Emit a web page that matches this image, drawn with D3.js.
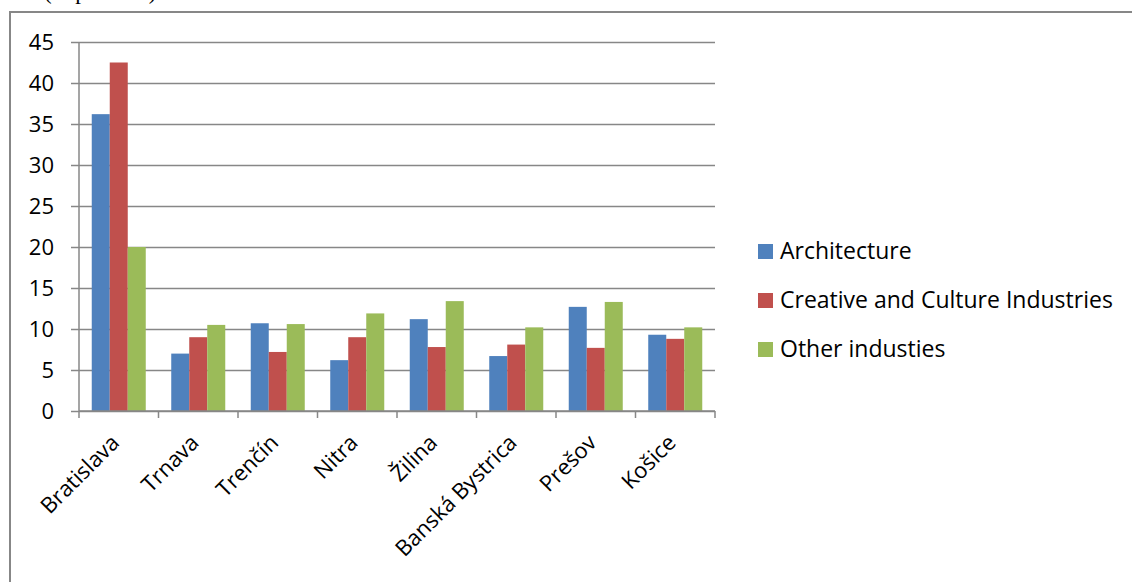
<!DOCTYPE html>
<html>
<head>
<meta charset="utf-8">
<script src="https://cdn.jsdelivr.net/npm/d3@7"></script>
<style>
  html, body { margin: 0; padding: 0; background: #fff; overflow: hidden; }
  svg { display: block; }
</style>
</head>
<body>
<div id="chart"></div>
<script>
(function() {
    'use strict';

    // Data
    var regions = ['Bratislava', 'Trnava', 'Trenčín', 'Nitra', 'Žilina', 'Banská Bystrica', 'Prešov', 'Košice'];
    var seriesNames = ['Architecture', 'Creative and Culture Industries', 'Other industies'];
    var architecture = [36.2, 7.0, 10.7, 6.2, 11.2, 6.7, 12.7, 9.3];
    var creative = [42.5, 9.0, 7.2, 9.0, 7.8, 8.1, 7.7, 8.8];
    var other = [20.0, 10.5, 10.6, 11.9, 13.4, 10.2, 13.3, 10.2];
    var yTicks = [0, 5, 10, 15, 20, 25, 30, 35, 40, 45];
    var colors = ['#4F81BD', '#C0504D', '#9BBB59'];

    var seriesValues = [architecture, creative, other];

    var width = 1132, height = 582;
    var font = '"Open Sans", sans-serif';
    var gridColor = '#878787';

    var svg = d3.select('#chart').append('svg')
        .attr('width', width)
        .attr('height', height);

    // caption above the chart frame, cut off by the top edge as in the source
    svg.append('text')
        .attr('x', 44)
        .attr('y', -1)
        .style('font', '23px "Liberation Serif", serif')
        .attr('fill', '#000')
        .text('(in per cent)');

    // chart frame (only top and left edges visible)
    svg.append('rect')
        .attr('x', 10)
        .attr('y', 12)
        .attr('width', width + 20)
        .attr('height', height + 20)
        .attr('fill', 'none')
        .attr('stroke', gridColor)
        .attr('stroke-width', 2);

    var plot = { left: 79, right: 715, top: 42, bottom: 411 };

    var x0 = d3.scaleBand()
        .domain(regions)
        .range([plot.left, plot.right])
        .paddingInner(0)
        .paddingOuter(0);

    var x1 = d3.scaleBand()
        .domain(seriesNames)
        .range([0, x0.bandwidth()])
        .paddingInner(0)
        .paddingOuter(0.708);

    var y = d3.scaleLinear()
        .domain([0, 45])
        .range([plot.bottom, plot.top]);

    // gridlines + y ticks
    var yAxis = d3.axisLeft(y)
        .tickValues(yTicks)
        .tickSize(-(plot.right - plot.left))
        .tickFormat(d3.format('d'));

    var gy = svg.append('g')
        .attr('transform', 'translate(' + plot.left + ',0)')
        .call(yAxis);
    gy.select('.domain').remove();
    gy.selectAll('.tick line')
        .attr('x1', -8)
        .attr('stroke', gridColor)
        .attr('stroke-width', 1.3);
    gy.selectAll('.tick text')
        .attr('x', -25)
        .style('font', '22px ' + font)
        .attr('fill', '#000');

    // bars
    var groups = svg.append('g').selectAll('g')
        .data(regions)
        .join('g')
        .attr('transform', function(d) { return 'translate(' + x0(d) + ',0)'; });

    groups.selectAll('rect')
        .data(function(d, i) {
            return seriesNames.map(function(s, j) {
                return { series: s, value: seriesValues[j][i], color: colors[j] };
            });
        })
        .join('rect')
        .attr('x', function(d) { return x1(d.series); })
        .attr('width', x1.bandwidth())
        .attr('y', function(d) { return y(d.value); })
        .attr('height', function(d) { return y(0) - y(d.value); })
        .attr('fill', function(d) { return d.color; });

    // y axis line
    svg.append('line')
        .attr('x1', plot.left).attr('x2', plot.left)
        .attr('y1', plot.top).attr('y2', plot.bottom)
        .attr('stroke', gridColor)
        .attr('stroke-width', 1.5);

    // x axis with ticks at category boundaries
    svg.append('line')
        .attr('x1', plot.left).attr('x2', plot.right)
        .attr('y1', plot.bottom).attr('y2', plot.bottom)
        .attr('stroke', gridColor)
        .attr('stroke-width', 1.5);

    var boundaries = regions.map(function(r) { return x0(r); }).concat([plot.right]);
    svg.append('g').selectAll('line')
        .data(boundaries)
        .join('line')
        .attr('x1', function(d) { return d; })
        .attr('x2', function(d) { return d; })
        .attr('y1', plot.bottom)
        .attr('y2', plot.bottom + 7)
        .attr('stroke', gridColor)
        .attr('stroke-width', 1.5);

    // rotated category labels
    svg.append('g').selectAll('text')
        .data(regions)
        .join('text')
        .attr('transform', function(d) {
            var cx = x0(d) + x0.bandwidth() / 2 + 2;
            return 'translate(' + cx + ',' + (plot.bottom + 33) + ') rotate(-45)';
        })
        .attr('text-anchor', 'end')
        .style('font', '22px ' + font)
        .attr('fill', '#000')
        .text(function(d) { return d; });

    // legend
    var legend = svg.append('g')
        .attr('transform', 'translate(758,244)');
    var item = legend.selectAll('g')
        .data(seriesNames)
        .join('g')
        .attr('transform', function(d, i) { return 'translate(0,' + (i * 49) + ')'; });
    item.append('rect')
        .attr('width', 15)
        .attr('height', 15)
        .attr('fill', function(d, i) { return colors[i]; });
    item.append('text')
        .attr('x', 22)
        .attr('y', 15)
        .style('font', '23px ' + font)
        .attr('fill', '#000')
        .text(function(d) { return d; });
})();
</script>
</body>
</html>
